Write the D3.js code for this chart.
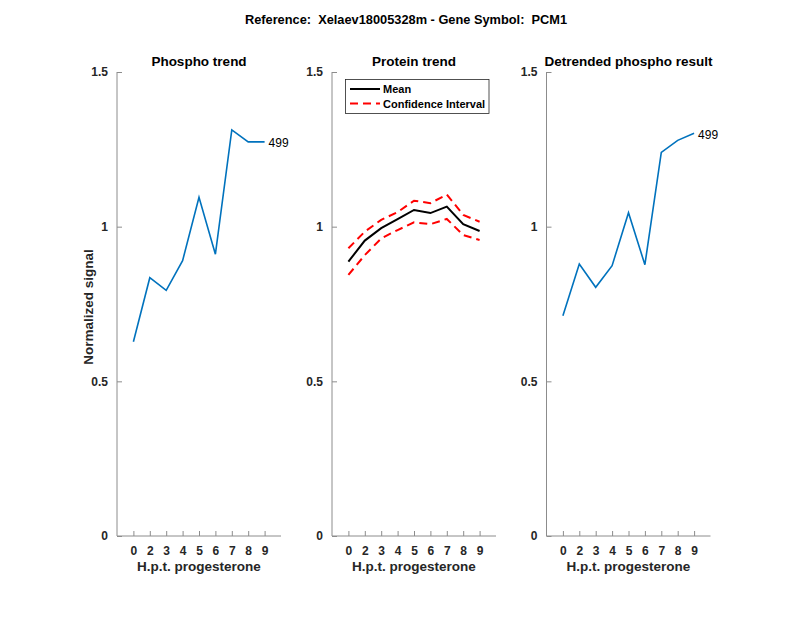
<!DOCTYPE html>
<html><head><meta charset="utf-8">
<script src="https://cdn.jsdelivr.net/npm/d3@7"></script>
<style>body{margin:0;background:#fff}svg{display:block}text{font-family:"Liberation Sans",Arial,Helvetica,sans-serif}</style>
</head><body><svg id="c" width="800" height="618"></svg>
<script>
const timeLabels = ["0","2","3","4","5","6","7","8","9"];
const yTicks = [0, 0.5, 1, 1.5];
const phospho = [0.628, 0.835, 0.794, 0.890, 1.095, 0.911, 1.313, 1.274, 1.274];
const proteinMean = [0.887, 0.955, 0.995, 1.024, 1.054, 1.044, 1.065, 1.008, 0.986];
const proteinUpper = [0.930, 0.984, 1.022, 1.047, 1.084, 1.076, 1.104, 1.038, 1.016];
const proteinLower = [0.844, 0.908, 0.962, 0.989, 1.014, 1.008, 1.025, 0.973, 0.957];
const detrended = [0.712, 0.879, 0.804, 0.874, 1.045, 0.877, 1.240, 1.279, 1.302];
const peptideLabel = "499";

const svg = d3.select("#c");
const axisCol = "#8c8c8c", txtCol = "#262626";
const plotTop = 72, plotBottom = 536, pw = 164;
const lefts = [117, 332, 546.5];
const titles = ["Phospho trend", "Protein trend", "Detrended phospho result"];

svg.append("text").attr("x", 406).attr("y", 24).attr("text-anchor", "middle")
  .attr("font-size", 12.8).attr("font-weight", "bold").attr("fill", "#000").style("white-space", "pre")
  .text("Reference:  Xelaev18005328m - Gene Symbol:  PCM1");

const y = d3.scaleLinear().domain([0, 1.5]).range([plotBottom, plotTop]);

function panel(i) {
  const x0 = lefts[i];
  const x = d3.scaleLinear().domain([0, 10]).range([x0, x0 + pw]);
  const g = svg.append("g");
  const xa = g.append("g").attr("transform", `translate(0,${plotBottom})`)
    .call(d3.axisBottom(x).tickValues(d3.range(1, 10)).tickFormat((d, k) => timeLabels[k]).tickSize(-5).tickPadding(10));
  const ya = g.append("g").attr("transform", `translate(${x0},0)`)
    .call(d3.axisLeft(y).tickValues(yTicks).tickFormat(d => String(d)).tickSize(-5).tickPadding(9));
  [xa, ya].forEach(a => {
    a.select(".domain").remove();
    a.selectAll(".tick line").attr("stroke", axisCol);
    a.selectAll(".tick text").attr("fill", txtCol).attr("font-size", 12).attr("font-weight", "bold")
      .attr("font-family", '"Liberation Sans",Arial,sans-serif');
  });
  g.append("line").attr("x1", x0).attr("x2", x0 + pw).attr("y1", plotBottom).attr("y2", plotBottom).attr("stroke", axisCol);
  g.append("line").attr("x1", x0).attr("x2", x0).attr("y1", plotTop).attr("y2", plotBottom).attr("stroke", axisCol);
  g.append("text").attr("x", x0 + pw / 2).attr("y", 66).attr("text-anchor", "middle")
    .attr("font-size", 13.5).attr("font-weight", "bold").attr("fill", "#000").text(titles[i]);
  g.append("text").attr("x", x0 + pw / 2).attr("y", 571).attr("text-anchor", "middle")
    .attr("font-size", 13.5).attr("font-weight", "bold").attr("fill", txtCol).text("H.p.t. progesterone");
  return x;
}

const line = (x) => d3.line().x((d, k) => x(k + 1)).y(d => y(d));

let x = panel(0);
svg.append("path").datum(phospho).attr("d", line(x)).attr("fill", "none").attr("stroke", "#0072BD").attr("stroke-width", 1.6);
svg.append("text").attr("x", x(9) + 4).attr("y", y(phospho[8]) + 5.5).attr("font-size", 12).attr("fill", "#000").text(peptideLabel);
svg.append("text").attr("transform", `translate(93,${(plotTop + plotBottom) / 2 + 3}) rotate(-90)`).attr("text-anchor", "middle")
  .attr("font-size", 13.5).attr("font-weight", "bold").attr("fill", txtCol).text("Normalized signal");

x = panel(1);
[proteinUpper, proteinLower].forEach(arr => {
  svg.append("path").datum(arr).attr("d", line(x)).attr("fill", "none").attr("stroke", "#ff0000")
    .attr("stroke-width", 2).attr("stroke-dasharray", "8,5");
});
svg.append("path").datum(proteinMean).attr("d", line(x)).attr("fill", "none").attr("stroke", "#000").attr("stroke-width", 2);
const lg = svg.append("g");
lg.append("rect").attr("x", 345.5).attr("y", 79.5).attr("width", 143.5).attr("height", 34)
  .attr("fill", "#fff").attr("stroke", "#262626").attr("stroke-width", 0.8);
lg.append("line").attr("x1", 350).attr("x2", 380).attr("y1", 89).attr("y2", 89).attr("stroke", "#000").attr("stroke-width", 2);
lg.append("line").attr("x1", 350).attr("x2", 380).attr("y1", 103.5).attr("y2", 103.5).attr("stroke", "#ff0000").attr("stroke-width", 2).attr("stroke-dasharray", "8,5");
lg.append("text").attr("x", 383).attr("y", 93).attr("font-size", 11).attr("font-weight", "bold").attr("fill", "#000").text("Mean");
lg.append("text").attr("x", 383).attr("y", 107.5).attr("font-size", 11).attr("font-weight", "bold").attr("fill", "#000").text("Confidence Interval");

x = panel(2);
svg.append("path").datum(detrended).attr("d", line(x)).attr("fill", "none").attr("stroke", "#0072BD").attr("stroke-width", 1.6);
svg.append("text").attr("x", x(9) + 4).attr("y", y(detrended[8]) + 5.5).attr("font-size", 12).attr("fill", "#000").text(peptideLabel);
</script></body></html>
